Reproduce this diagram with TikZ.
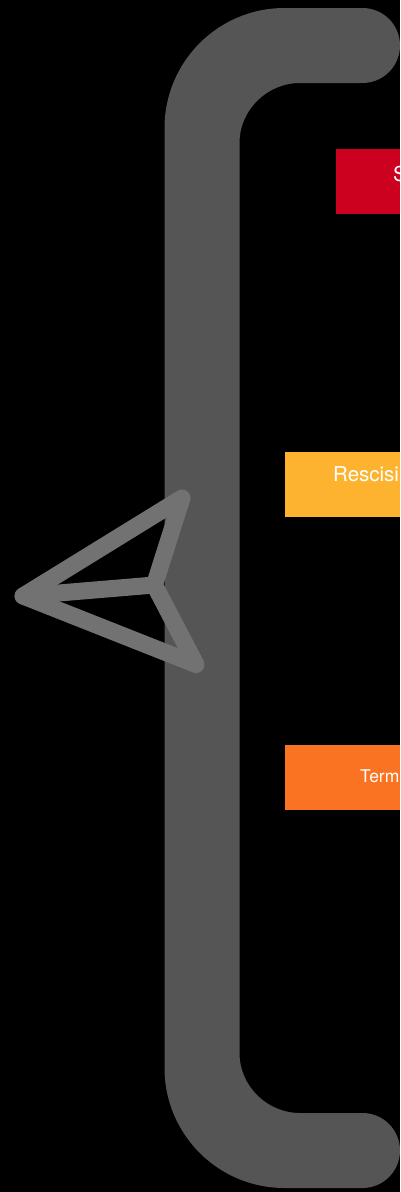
\documentclass[tikz,border=0pt]{standalone}
\usepackage{fontspec}
\setmainfont{TeX Gyre Heros}
\definecolor{bracketgrey}{HTML}{555555}
\definecolor{arrowgrey}{HTML}{727272}
\definecolor{boxred}{HTML}{CC001F}
\definecolor{boxyellow}{HTML}{FDB32F}
\definecolor{boxorange}{HTML}{F97322}
\tikzset{
  arrowline/.style={draw=arrowgrey,line width=17pt,line cap=round,line join=round},
  boxlabel/.style={text=white,inner sep=0pt,anchor=base west},
}
\begin{document}
\begin{tikzpicture}[x=1pt,y=-1pt]
\fill[black] (0,0) rectangle (400,1192);
\useasboundingbox (0,0) rectangle (400,1192);
\clip (0,0) rectangle (400,1192);
% bracket
\fill[bracketgrey] (362.5,8) -- (284.5,8)
  .. controls (218,8) and (164.5,62) .. (164.5,128)
  -- (164.5,1068)
  .. controls (164.5,1134) and (218,1188) .. (284.5,1188)
  -- (362.5,1188)
  .. controls (383.2,1188) and (400,1171.2) .. (400,1150.5)
  .. controls (400,1129.8) and (383.2,1113) .. (362.5,1113)
  -- (300,1113)
  .. controls (267,1113) and (239.5,1086) .. (239.5,1053)
  -- (239.5,143)
  .. controls (239.5,110) and (267,83) .. (300,83)
  -- (362.5,83)
  .. controls (383.2,83) and (400,66.2) .. (400,45.5)
  .. controls (400,24.8) and (383.2,8) .. (362.5,8) -- cycle;
% boxes
\fill[boxred] (336,149) rectangle (400,214);
\fill[boxyellow] (285,452) rectangle (400,517);
\fill[boxorange] (285,745) rectangle (400,810);
\node[boxlabel,font=\fontsize{20.5}{24}\selectfont] (s) at (393,181) {S};
\node[boxlabel,font=\fontsize{20.5}{24}\selectfont] (r) at (333,481) {Rescisi};
\node[boxlabel,font=\fontsize{17.5}{20}\selectfont] (t) at (360,782) {Term};
% pointer
\coordinate (tip) at (23,596);
\coordinate (up) at (182,498);
\coordinate (mid) at (154.4,585);
\coordinate (down) at (196,664.5);
\draw[arrowline] (tip) -- (up) -- (mid) -- (down) -- cycle;
\draw[arrowline] (tip) -- (mid);
\end{tikzpicture}
\end{document}
